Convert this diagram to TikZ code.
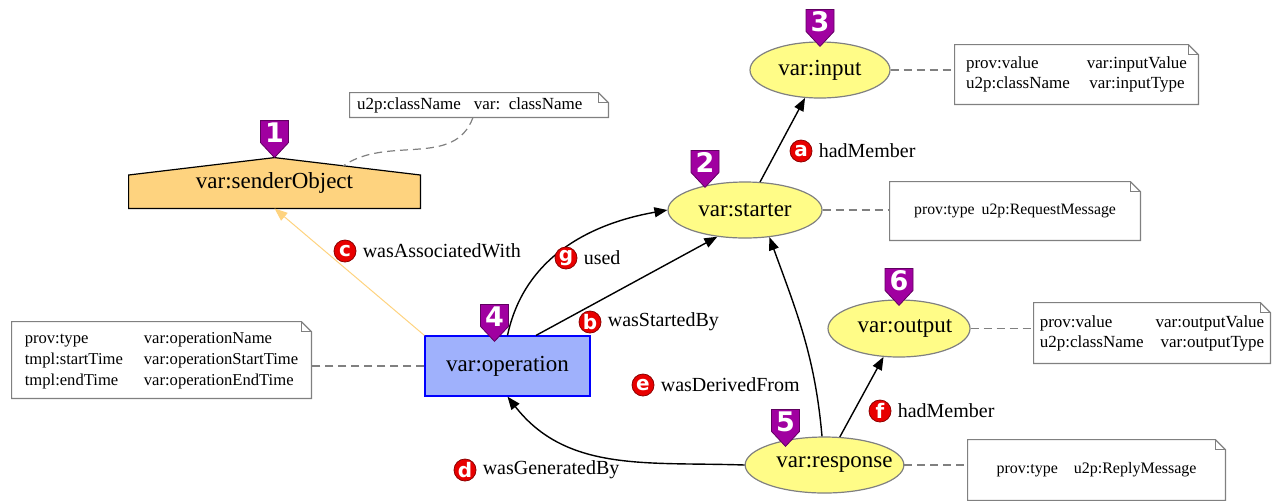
\documentclass[tikz,border=0pt]{standalone}
\usepackage{fontspec}
\setmainfont{Liberation Serif}
\newfontfamily\badgefont{DejaVu Sans}
\usetikzlibrary{arrows.meta,positioning,shapes.geometric}
\definecolor{entityFill}{HTML}{FFFC87}
\definecolor{agentFill}{HTML}{FED37F}
\definecolor{activityFill}{HTML}{9FB1FC}
\definecolor{badgePurple}{HTML}{A000A0}
\definecolor{tagRed}{HTML}{E80000}
\definecolor{noteGray}{HTML}{808080}
\pgfdeclarelayer{background}
\pgfsetlayers{background,main}
\tikzset{
    entity/.style={ellipse,draw=noteGray,fill=entityFill,line width=0.6pt,inner ysep=0pt,inner xsep=-6pt,font=\fontsize{11.5}{13}\selectfont},
    activity/.style={rectangle,draw=blue,fill=activityFill,line width=0.6pt,inner sep=0pt,font=\fontsize{11.5}{13}\selectfont},
    agent/.style={inner sep=0pt,font=\fontsize{11.5}{13}\selectfont},
    agentshape/.style={fill=agentFill,draw=black,line width=0.6pt},
    note/.style={inner sep=0pt},
    noteline/.style={draw=noteGray,line width=0.6pt,dash pattern=on 4pt off 2.5pt},
    relation/.style={-{Triangle[length=6.5pt,width=5pt]},line width=0.7pt},
    tag/.style={circle,fill=tagRed,draw=tagRed!60!black,line width=0.4pt,inner sep=0pt,minimum size=11pt,text=white,font=\badgefont\bfseries\fontsize{10}{10}\selectfont},
    relname/.style={inner sep=1pt,font=\fontsize{10}{12}\selectfont},
    badge/.style={fill=badgePurple,draw=badgePurple!60!black,line width=0.4pt},
    badgenum/.style={text=white,inner sep=0pt,font=\badgefont\bfseries\fontsize{13.5}{14}\selectfont}
}
\newcommand\NoteFrame[1]{%
    \draw[draw=noteGray,line width=0.6pt] (#1.south west) -- (#1.north west) -- ([xshift=-5pt]#1.north east) -- ([yshift=-5pt]#1.north east) -- (#1.south east) -- cycle;
    \draw[draw=noteGray,line width=0.6pt] ([xshift=-5pt]#1.north east) |- ([yshift=-5pt]#1.north east);
}
\newcommand\Badge[3]{%
    \filldraw[badge] (#1) -- ++(-7pt,7.5pt) -- ++(0,11pt) -- ++(14pt,0) -- ++(0,-11pt) -- cycle;
    \node[badgenum] (#2) at ([yshift=12.5pt]#1) {#3};
}

\begin{document}
\begin{tikzpicture}[x=0.5pt,y=0.5pt]
    \useasboundingbox (0,0) rectangle (1277,-500);
    \node[entity,minimum width=70pt,minimum height=28pt] (input) at (820,-70) {var:input};
    \node[entity,minimum width=77pt,minimum height=28pt] (starter) at (745,-210) {var:starter};
    \node[activity,minimum width=82.5pt,minimum height=30pt] (operation) at (507.5,-366) {var:operation};
    \node[entity,minimum width=71pt,minimum height=28.5pt] (output) at (899,-328.5) {\hspace*{6pt}var:output};
    \node[entity,minimum width=77.5pt,minimum height=28pt] (response) at (824.5,-465) {\hspace*{10pt}var:response};
    \node[agent,minimum width=145.5pt,minimum height=25pt] (sender) at (274.5,-183) {var:senderObject};
    \begin{pgfonlayer}{background}
        \filldraw[agentshape] (sender.south west) -- ([yshift=4pt]sender.west) -- (sender.north) -- ([yshift=4pt]sender.east) -- (sender.south east) -- cycle;
    \end{pgfonlayer}

    \node[note,minimum width=129pt,minimum height=12pt,text width=122pt,align=left,font=\fontsize{8.5}{9}\selectfont] (senderNote) at (479,-105) {u2p:className\hspace{6.5pt}var: className};
    \node[note,minimum width=121.5pt,minimum height=29.5pt,font=\fontsize{8.5}{10}\selectfont] (inputNote) at (1076.5,-74.5) {\begin{tabular}{@{}l@{\hspace{8.5pt}}c@{}}prov:value & var:inputValue\\ u2p:className & var:inputType\end{tabular}};
    \node[note,minimum width=125pt,minimum height=29pt,font=\fontsize{7.9}{9}\selectfont] (starterNote) at (1015,-211) {prov:type\hspace{3.5pt}u2p:RequestMessage};
    \node[note,minimum width=149.5pt,minimum height=38pt,font=\fontsize{8.3}{10.5}\selectfont] (operationNote) at (161.5,-360) {\begin{tabular}{@{}l@{\hspace{10.5pt}}l@{}}prov:type & var:operationName\\ tmpl:startTime & var:operationStartTime\\ tmpl:endTime & var:operationEndTime\end{tabular}};
    \node[note,minimum width=118pt,minimum height=30pt,font=\fontsize{8.5}{10}\selectfont] (outputNote) at (1152,-333) {\begin{tabular}{@{}l@{\hspace{6pt}}r@{}}prov:value & var:outputValue\\ u2p:className & var:outputType\end{tabular}};
    \node[note,minimum width=128.5pt,minimum height=30pt,font=\fontsize{8}{9}\selectfont] (responseNote) at (1096.5,-470) {prov:type\hspace{8pt}u2p:ReplyMessage};
    \NoteFrame{senderNote}
    \NoteFrame{inputNote}
    \NoteFrame{starterNote}
    \NoteFrame{operationNote}
    \NoteFrame{outputNote}
    \NoteFrame{responseNote}

    \coordinate (roofPt) at (343,-166);
    \draw[noteline] ([xshift=-3pt]senderNote.south) to[out=-110,in=35] (roofPt);
    \draw[noteline] (input.east) -- (input.east -| inputNote.west);
    \draw[noteline] (starter.east) -- (starter.east -| starterNote.west);
    \draw[noteline] (operation.west) -- (operation.west -| operationNote.east);
    \draw[noteline] (output.east) -- (output.east -| outputNote.west);
    \draw[noteline] (response.east) -- (response.east -| responseNote.west);

    \draw[relation] (starter) -- (input);
    \draw[relation,draw=agentFill,line width=0.5pt] (operation.north west) -- (sender.south);
    \draw[relation] (operation.north) to[out=78,in=190] (starter.west);
    \draw[relation] (operation.47) -- (starter.224);
    \draw[relation] (response.95) to[out=95,in=-70] (starter.-48);
    \draw[relation] (response) -- (output);
    \draw[relation] (response.west) to[out=178,in=-52] (operation.south);

    \node[tag] (tagA) at (801,-151) {a};
    \node[relname,right=2pt of tagA] (relA) {hadMember};
    \node[tag] (tagB) at (590,-322) {b};
    \node[relname,right=2pt of tagB] (relB) {wasStartedBy};
    \node[tag] (tagC) at (345,-251) {c};
    \node[relname,right=2pt of tagC] (relC) {wasAssociatedWith};
    \node[tag] (tagD) at (465,-470) {d};
    \node[relname,right=2pt of tagD] (relD) {wasGeneratedBy};
    \node[tag] (tagE) at (643,-385) {e};
    \node[relname,right=2pt of tagE] (relE) {wasDerivedFrom};
    \node[tag] (tagF) at (880,-411) {f};
    \node[relname,right=2pt of tagF] (relF) {hadMember};
    \node[tag] (tagG) at (566,-258) {g};
    \node[relname,right=2pt of tagG] (relG) {used};

    \coordinate (tipOne) at (sender.north);
    \coordinate (tipTwo) at ([xshift=-20pt,yshift=-3pt]starter.north);
    \coordinate (tipThree) at ([yshift=-2.5pt]input.north);
    \coordinate (tipFour) at ([xshift=-6.5pt,yshift=-3pt]operation.north);
    \coordinate (tipFive) at ([xshift=-19.5pt,yshift=-5pt]response.north);
    \coordinate (tipSix) at ([yshift=-3pt]output.north);
    \Badge{tipOne}{badgeOne}{1}
    \Badge{tipTwo}{badgeTwo}{2}
    \Badge{tipThree}{badgeThree}{3}
    \Badge{tipFour}{badgeFour}{4}
    \Badge{tipFive}{badgeFive}{5}
    \Badge{tipSix}{badgeSix}{6}
\end{tikzpicture}
\end{document}
